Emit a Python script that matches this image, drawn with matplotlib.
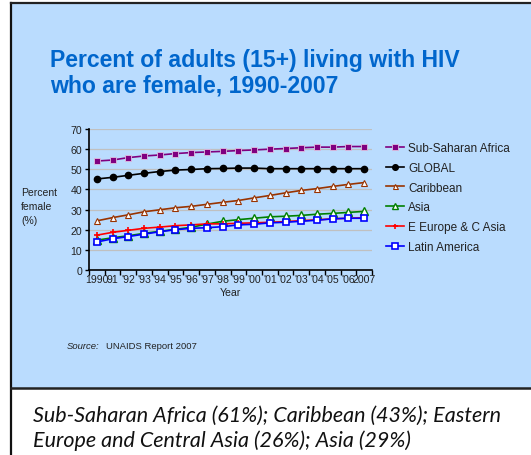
import matplotlib
matplotlib.use("Agg")
import matplotlib.pyplot as plt
from matplotlib.patches import Rectangle
from matplotlib.lines import Line2D

W, H = 531, 456
DPI = 100

years = list(range(1990, 2008))
tick_labels = ["1990", "91", "'92", "'93", "'94", "'95", "'96", "'97", "'98", "'99",
               "'00", "'01", "'02", "'03", "'04", "'05", "'06", "2007"]

ssa = [54.1, 54.6, 55.8, 56.6, 57.1, 57.8, 58.3, 58.6, 58.9, 59.3, 59.6, 60.0, 60.3, 60.7, 61.0, 61.0, 61.3, 61.3]
glob = [45.2, 46.0, 47.0, 48.0, 48.9, 49.6, 49.9, 50.3, 50.4, 50.6, 50.6, 50.3, 50.3, 50.3, 50.3, 50.3, 50.3, 50.3]
carib = [24.4, 26.0, 27.4, 28.9, 29.9, 30.9, 31.6, 32.6, 33.6, 34.5, 35.8, 37.0, 38.3, 39.5, 40.4, 41.5, 42.5, 43.4]
asia = [14.8, 16.0, 17.0, 18.2, 19.2, 20.2, 21.2, 22.8, 24.2, 25.0, 25.7, 26.4, 26.7, 27.1, 27.7, 28.1, 28.6, 29.1]
eeca = [17.3, 18.7, 19.7, 20.7, 21.3, 22.0, 22.4, 22.9, 22.9, 23.2, 23.4, 23.7, 24.0, 24.5, 24.9, 25.4, 25.7, 25.9]
latam = [13.9, 15.5, 16.6, 17.8, 19.0, 20.0, 20.7, 21.0, 21.5, 22.4, 22.7, 23.4, 23.7, 24.2, 24.7, 25.4, 25.7, 25.7]

series_names = ["Sub-Saharan Africa", "GLOBAL", "Caribbean", "Asia", "E Europe & C Asia", "Latin America"]

BG = "#BADCFE"

fig = plt.figure(figsize=(W / DPI, H / DPI), dpi=DPI)
fig.patch.set_facecolor("white")

def px(x, y):
    return x / W, 1 - y / H

# blue panel
x0, y0 = px(11, 389)
x1, y1 = px(531, 4)
fig.add_artist(Rectangle((x0, y0), x1 - x0, y1 - y0, transform=fig.transFigure,
                         facecolor=BG, edgecolor="none", zorder=0))
# borders
fig.add_artist(Line2D([px(11, 0)[0], px(11, 0)[0]], [0, y1], transform=fig.transFigure,
                      color="#111111", lw=1.6, zorder=1))
fig.add_artist(Line2D([x0, 1], [y1, y1], transform=fig.transFigure, color="#222222", lw=1.6, zorder=1))
fig.add_artist(Line2D([x0, 1], [y0, y0], transform=fig.transFigure, color="#222222", lw=1.8, zorder=1))

ax_l, ax_b = px(89, 271)
ax_r, ax_t = px(372, 130)
ax = fig.add_axes([ax_l, ax_b, ax_r - ax_l, ax_t - ax_b])
ax.set_facecolor(BG)
ax.patch.set_alpha(0)

xs = list(range(len(years)))
styles = [
    (ssa, dict(color="#800080", marker="s", ms=4.5, mfc="#800080", mec="#E0C0E0", mew=0.6)),
    (glob, dict(color="#000000", marker="o", ms=4.5, mfc="#000000", mec="#000000")),
    (carib, dict(color="#993300", marker="^", ms=4, mfc="white", mec="#993300", mew=0.8)),
    (asia, dict(color="#008000", marker="^", ms=5.5, mfc="white", mec="#008000", mew=1.0)),
    (eeca, dict(color="#FF0000", marker="+", ms=4, mfc="#FF0000", mec="#FF0000", mew=1.2)),
    (latam, dict(color="#0000FF", marker="s", ms=5, mfc="white", mec="#0000FF", mew=1.2)),
]
handles = []
for (vals, st), name in zip(styles, series_names):
    h, = ax.plot(xs, vals, lw=1.2, label=name, zorder=3, **st)
    handles.append(h)

ax.set_xlim(-0.5, len(years) - 0.5)
ax.set_ylim(0, 70)
ax.set_yticks(range(0, 71, 10))
ax.yaxis.grid(True, color="#C0C0C0", lw=0.9)
ax.set_axisbelow(True)
for s in ["top", "right"]:
    ax.spines[s].set_visible(False)
for s in ["left", "bottom"]:
    ax.spines[s].set_color("black")
    ax.spines[s].set_linewidth(1.2)

tick_font = dict(family="Liberation Sans", size=7.6, color="#222222")
ax.set_xticks(xs)
ax.set_xticklabels(tick_labels, **tick_font)
ax.tick_params(axis="x", length=0, pad=3)
ax.set_xticks([x - 0.5 for x in range(len(years) + 1)], minor=True)
ax.tick_params(axis="x", which="minor", length=3.5, width=1, color="black", direction="out")
for lab in ax.get_yticklabels():
    lab.set_fontfamily("Liberation Sans")
    lab.set_fontsize(7.6)
    lab.set_color("#222222")
ax.tick_params(axis="y", length=3, width=1, color="black", pad=2)
ax.set_xlabel("Year", family="Liberation Sans", size=7.6, color="#222222", labelpad=2)

fig.text(21 / W, 1 - 207 / H, "Percent\nfemale\n(%)", ha="left", va="center",
         family="Liberation Sans", size=7.5, color="#222222", linespacing=1.45)

leg = fig.legend(handles=handles, loc="upper left", bbox_to_anchor=px(386, 143),
                 bbox_transform=fig.transFigure, frameon=False,
                 prop=dict(family="Liberation Sans", size=8.5), handlelength=1.5,
                 handletextpad=0.4, labelspacing=0.66, borderpad=0, borderaxespad=0,
                 markerscale=0.9)
for t in leg.get_texts():
    t.set_color("#222222")

fig.text(50 / W, 1 - 61 / H, "Percent of adults (15+) living with HIV",
         ha="left", va="center", family="Liberation Sans", weight="bold", size=16.6, color="#0066CC")
fig.text(50 / W, 1 - 86 / H, "who are female, 1990-2007",
         ha="left", va="center", family="Liberation Sans", weight="bold", size=16.6, color="#0066CC")

fig.text(67 / W, 1 - 347 / H, "Source:", ha="left", va="center", family="Liberation Sans",
         style="italic", size=6.8, color="#222222")
fig.text(106 / W, 1 - 347 / H, "UNAIDS Report 2007", ha="left", va="center",
         family="Liberation Sans", size=6.8, color="#222222")

fig.text(33 / W, 1 - 416 / H, "Sub-Saharan Africa (61%); Caribbean (43%); Eastern",
         ha="left", va="center", family="Lato", style="italic", size=15.5, color="#111111")
fig.text(33 / W, 1 - 441 / H, "Europe and Central Asia (26%); Asia (29%)",
         ha="left", va="center", family="Lato", style="italic", size=15.5, color="#111111")

fig.savefig("out.png", dpi=DPI)
